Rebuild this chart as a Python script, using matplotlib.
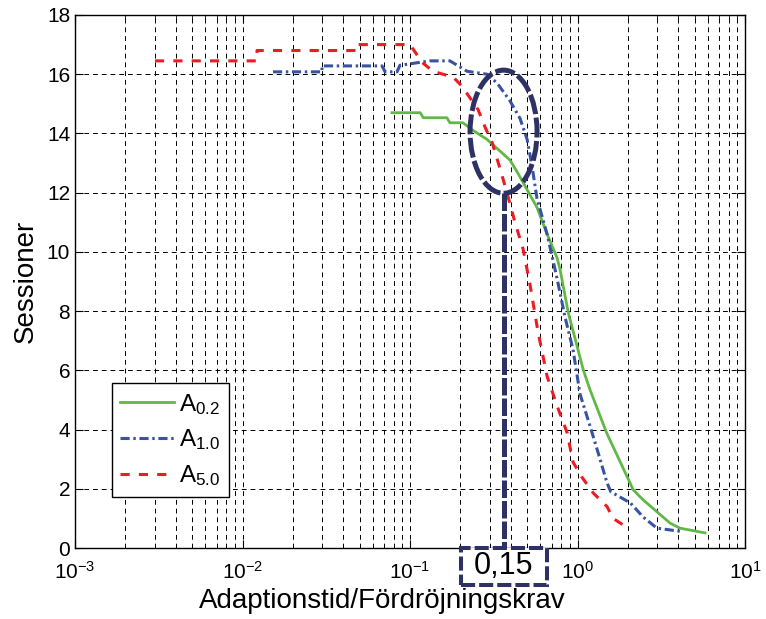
import matplotlib
matplotlib.use("Agg")
import matplotlib.pyplot as plt
from matplotlib.patches import Ellipse, Rectangle
from matplotlib.ticker import LogLocator, NullFormatter

plt.rcParams['font.family'] = ['Liberation Sans', 'DejaVu Sans']
plt.rcParams['mathtext.fontset'] = 'custom'
plt.rcParams['mathtext.rm'] = 'Liberation Sans'
plt.rcParams['mathtext.it'] = 'Liberation Sans'

# A_0.2 (green, solid)
x_a02 = [0.078, 0.115, 0.120, 0.166, 0.173, 0.207, 0.238, 0.288, 0.345, 0.395,
         0.436, 0.500, 0.573, 0.654, 0.755, 0.787, 0.881, 1.083, 1.188, 1.494,
         2.153, 2.47, 3.57, 4.09, 5.77]
y_a02 = [14.7, 14.7, 14.53, 14.53, 14.36, 14.36, 14.1, 13.8, 13.4, 13.1,
         12.7, 12.1, 11.5, 10.64, 9.8, 9.4, 7.94, 6.01, 5.34, 3.88,
         1.96, 1.62, 0.84, 0.67, 0.51]

# A_1.0 (blue, dash-dot)
x_a10 = [0.0152, 0.0298, 0.0298, 0.068, 0.071, 0.0836, 0.087, 0.131, 0.173, 0.219,
         0.288, 0.331, 0.395, 0.454, 0.500, 0.535, 0.573, 0.658, 0.755, 0.842,
         0.940, 1.035, 1.19, 1.33, 1.50, 1.58, 2.07, 2.46, 2.98, 4.27]
y_a10 = [16.08, 16.08, 16.28, 16.28, 16.08, 16.08, 16.3, 16.45, 16.45, 16.1,
         16.0, 15.7, 15.1, 14.5, 13.8, 12.9, 11.8, 10.6, 9.1, 7.8,
         6.7, 5.2, 4.1, 3.2, 2.2, 1.9, 1.52, 1.05, 0.67, 0.55]

# A_5.0 (red, dashed)
x_a50 = [0.0030, 0.0122, 0.0122, 0.0483, 0.0483, 0.100, 0.118, 0.137, 0.157, 0.181,
         0.204, 0.228, 0.255, 0.281, 0.309, 0.345, 0.379, 0.423, 0.473, 0.520,
         0.581, 0.658, 0.755, 0.866, 0.940, 1.06, 1.24, 1.50, 1.63, 1.87]
y_a50 = [16.45, 16.45, 16.8, 16.8, 17.0, 17.0, 16.4, 16.1, 16.0, 15.9,
         15.6, 15.2, 14.8, 14.2, 13.7, 12.8, 12.0, 11.0, 10.1, 8.9,
         7.3, 5.8, 4.8, 3.9, 2.9, 2.4, 1.86, 1.4, 1.0, 0.78]

labels = [r'A$_{\mathrm{0.2}}$', r'A$_{\mathrm{1.0}}$', r'A$_{\mathrm{5.0}}$']
navy = '#2e3163'

fig = plt.figure(figsize=(7.66, 6.19), dpi=100)
ax = fig.add_axes([0.098, 0.1147, 0.8746, 0.8611])

ax.plot(x_a02, y_a02, color='#62b846', lw=2.0, label=labels[0])
ax.plot(x_a10, y_a10, color='#3853a4', lw=2.2, linestyle=(0, (3, 1.2, 0.8, 1.2)), label=labels[1])
ax.plot(x_a50, y_a50, color='#ed1c24', lw=2.2, linestyle=(0, (3, 3)), label=labels[2])

ax.set_xscale('log')
ax.set_xlim(1e-3, 1e1)
ax.set_ylim(0, 18)
ax.set_yticks(range(0, 19, 2))
ax.xaxis.set_minor_locator(LogLocator(base=10, subs=range(2, 10), numticks=20))
ax.xaxis.set_minor_formatter(NullFormatter())

ax.grid(True, which='major', color='black', lw=0.7, linestyle=(0, (5, 4)))
ax.grid(True, which='minor', axis='x', color='black', lw=0.7, linestyle=(0, (5, 4)))
ax.tick_params(which='both', direction='in', top=True, right=True, labelsize=15)
ax.tick_params(which='major', length=6)
ax.tick_params(which='minor', length=3)
ax.tick_params(axis='x', which='major', pad=9)
for s in ax.spines.values():
    s.set_linewidth(1.0)

ax.set_xlabel('Adaptionstid/Fördröjningskrav', fontsize=20, labelpad=3)
ax.xaxis.set_label_coords(0.458, -0.075, transform=ax.transAxes)
ax.xaxis.label.set_va('top')
ax.set_ylabel('Sessioner', fontsize=20, labelpad=6)

leg = ax.legend(loc='lower left', bbox_to_anchor=(0.055, 0.096), borderaxespad=0,
                fontsize=17.5, handlelength=2.2, handletextpad=0.2, labelspacing=0.45,
                borderpad=0.35, fancybox=False, edgecolor='black', framealpha=1)
leg.get_frame().set_linewidth(1.0)

# annotation: ellipse, guide line and value box
ax.add_patch(Ellipse((0.6396, 0.781), 0.1, 0.231, transform=ax.transAxes,
                     fill=False, edgecolor=navy, lw=3.6, linestyle=(0, (4, 0.7)),
                     clip_on=False, zorder=5))
ax.plot([0.640, 0.640], [0.666, 0.0], transform=ax.transAxes, color=navy,
        lw=3.6, linestyle=(0, (3.5, 0.6)), clip_on=False, zorder=5)
ax.add_patch(Rectangle((0.576, -0.0694), 0.128, 0.0694, transform=ax.transAxes,
                       fill=True, facecolor='white', edgecolor=navy, lw=2.9,
                       linestyle=(0, (3.5, 1)), clip_on=False, zorder=6))
ax.text(0.640, -0.034, '0,15', transform=ax.transAxes, ha='center', va='center',
        fontsize=22, zorder=7, clip_on=False)

fig.savefig('out.png', dpi=100)
